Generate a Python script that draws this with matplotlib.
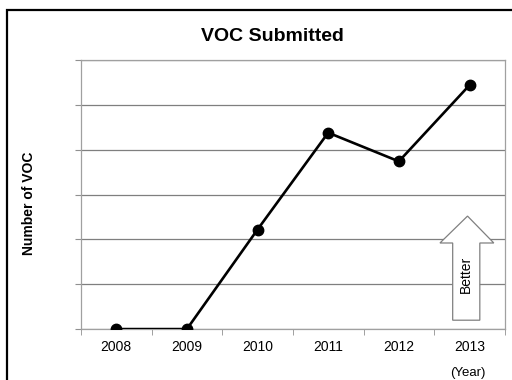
import numpy as np
import matplotlib.pyplot as plt
from matplotlib.lines import Line2D
from matplotlib.patches import Polygon

plt.rcParams['font.family'] = ['Liberation Sans', 'DejaVu Sans']

years = ['2008', '2009', '2010', '2011', '2012', '2013']
voc_count = [0, 0, 11.1, 21.9, 18.7, 27.2]

fig = plt.figure(figsize=(5.12, 3.8), dpi=100)
ax = fig.add_axes([0.158, 0.134, 0.828, 0.708])

x = np.arange(len(years))
ax.plot(x, voc_count, color='black', lw=1.9, marker='o', ms=7.5, zorder=3)

ax.set_xlim(-0.5, len(years) - 0.5)
ax.set_ylim(0, 30)
ax.set_yticks(np.arange(0, 31, 5))
ax.set_yticklabels([])
ax.yaxis.grid(True, color='#7f7f7f', lw=0.9)
ax.set_axisbelow(True)

# category labels centred, ticks on the boundaries
ax.set_xticks(x)
ax.set_xticklabels(years, fontsize=10)
ax.set_xticks(np.arange(-0.5, len(years)), minor=True)
ax.tick_params(axis='x', which='major', length=0, pad=8)
ax.tick_params(axis='x', which='minor', length=4, color='#909090', direction='out')
ax.tick_params(axis='y', length=4, color='#909090', direction='out')
for s in ax.spines.values():
    s.set_color('#a0a0a0')
    s.set_linewidth(0.9)

fig.text(0.056, 0.466, 'Number of VOC', fontsize=10, fontweight='bold',
         rotation=90, ha='center', va='center')
fig.text(0.533, 0.903, 'VOC Submitted', fontsize=14, fontweight='bold',
         ha='center', va='center')
fig.text(0.914, 0.018, '(Year)', fontsize=9.5, ha='center', va='center')

# "Better" arrow
arrow = Polygon([[0.877, 0.033], [0.941, 0.033], [0.941, 0.320], [0.974, 0.320],
                 [0.912, 0.420], [0.847, 0.320], [0.877, 0.320]],
                closed=True, transform=ax.transAxes, facecolor='white',
                edgecolor='#808080', lw=0.9, zorder=4)
ax.add_patch(arrow)
ax.text(0.909, 0.205, 'Better', transform=ax.transAxes, rotation=90,
        fontsize=10, ha='center', va='center', zorder=5)

# outer chart frame (left and top edges only inside the image)
fx, fy = 7 / 512, 1 - 10 / 380
fig.add_artist(Line2D([fx, fx, 1.0], [0.0, fy, fy], transform=fig.transFigure,
                      color='black', lw=1.6, solid_joinstyle='miter'))

fig.savefig('out.png', dpi=100)
